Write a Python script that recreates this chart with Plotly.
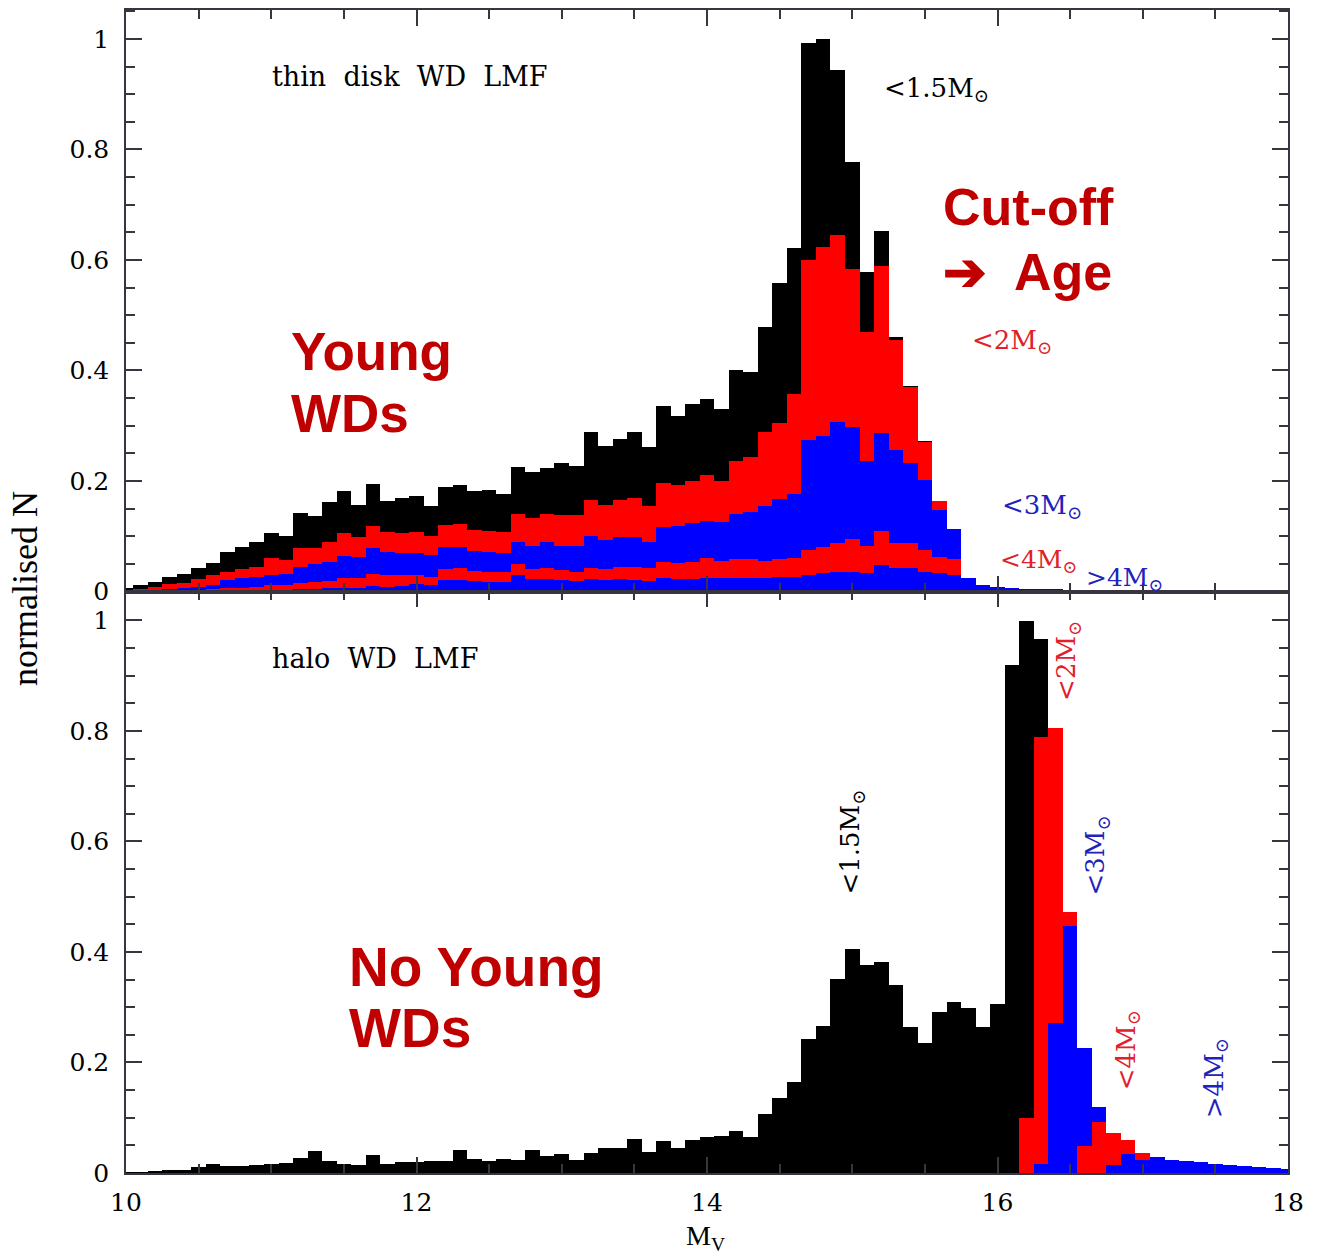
import plotly.graph_objects as go

# ---------------- data ----------------
# bin centres (absolute magnitude M_V), bin width 0.1
mv_bins = [round(10 + 0.1 * i, 1) for i in range(81)]
bin_width = 0.1

# thin disk WD LF: cumulative stack tops (all, >1.5, >2, >3, >4 Msun progenitors)
thin_all = [0.007,0.012,0.017,0.026,0.031,0.042,0.051,0.071,0.081,0.089,
            0.105,0.101,0.142,0.136,0.162,0.181,0.157,0.195,0.163,0.170,
            0.172,0.155,0.189,0.192,0.181,0.184,0.177,0.225,0.216,0.224,
            0.232,0.228,0.289,0.264,0.276,0.288,0.261,0.336,0.318,0.339,
            0.348,0.330,0.400,0.397,0.479,0.559,0.622,0.993,1.000,0.944,
            0.777,0.579,0.652,0.460,0.372,0.272,0.164,0.114,0.024,0.012,
            0.008,0.006,0.005,0.004,0.004,0.003,0.003,0.002,0.002,0.002,
            0.001,0.001,0.001,0.001,0.001,0.001,0,0,0,0,0]
thin_gt1p5 = [0.003,0.005,0.009,0.013,0.016,0.022,0.029,0.036,0.041,0.045,
              0.060,0.057,0.078,0.078,0.089,0.105,0.099,0.118,0.108,0.105,
              0.108,0.101,0.121,0.122,0.112,0.110,0.107,0.140,0.133,0.140,
              0.139,0.139,0.166,0.156,0.166,0.170,0.154,0.196,0.192,0.200,
              0.210,0.200,0.236,0.243,0.289,0.305,0.357,0.600,0.623,0.646,
              0.584,0.469,0.590,0.455,0.370,0.271,0.163,0.114,0.024,0.012,
              0.008,0.006,0.005,0.004,0.004,0.003,0.003,0.002,0.002,0.002,
              0.001,0.001,0.001,0.001,0.001,0.001,0,0,0,0,0]
thin_gt2 = [0.001,0.002,0.003,0.004,0.006,0.009,0.012,0.021,0.024,0.026,
            0.030,0.031,0.044,0.049,0.053,0.065,0.063,0.078,0.072,0.069,
            0.069,0.066,0.081,0.080,0.074,0.071,0.069,0.090,0.083,0.089,
            0.083,0.083,0.101,0.093,0.099,0.099,0.090,0.116,0.118,0.124,
            0.128,0.125,0.141,0.144,0.154,0.167,0.177,0.274,0.281,0.307,
            0.298,0.236,0.287,0.256,0.232,0.202,0.148,0.114,0.024,0.012,
            0.008,0.006,0.005,0.004,0.004,0.003,0.003,0.002,0.002,0.002,
            0.001,0.001,0.001,0.001,0.001,0.001,0,0,0,0,0]
thin_gt3 = [0.000,0.001,0.001,0.002,0.002,0.003,0.004,0.006,0.007,0.009,
            0.012,0.012,0.016,0.017,0.019,0.024,0.024,0.031,0.029,0.029,
            0.030,0.027,0.041,0.042,0.037,0.036,0.035,0.049,0.041,0.042,
            0.039,0.036,0.042,0.041,0.045,0.045,0.042,0.054,0.051,0.054,
            0.060,0.056,0.058,0.058,0.056,0.058,0.060,0.075,0.080,0.088,
            0.095,0.082,0.110,0.088,0.088,0.075,0.062,0.058,0.024,0.012,
            0.008,0.006,0.005,0.004,0.004,0.003,0.003,0.002,0.002,0.002,
            0.001,0.001,0.001,0.001,0.001,0.001,0,0,0,0,0]
thin_gt4 = [0.000,0.000,0.000,0.001,0.001,0.001,0.001,0.002,0.002,0.002,
            0.003,0.003,0.004,0.005,0.006,0.007,0.007,0.010,0.009,0.010,
            0.013,0.012,0.021,0.021,0.019,0.018,0.018,0.030,0.023,0.023,
            0.021,0.019,0.023,0.021,0.023,0.021,0.019,0.024,0.023,0.023,
            0.024,0.024,0.025,0.025,0.024,0.026,0.027,0.030,0.033,0.035,
            0.036,0.034,0.048,0.042,0.042,0.036,0.033,0.030,0.024,0.012,
            0.008,0.006,0.005,0.004,0.004,0.003,0.003,0.002,0.002,0.002,
            0.001,0.001,0.001,0.001,0.001,0.001,0,0,0,0,0]

# halo WD LF: cumulative stack tops
halo_all = [0.002,0.003,0.005,0.006,0.007,0.012,0.018,0.013,0.014,0.016,
            0.018,0.019,0.028,0.040,0.023,0.018,0.016,0.033,0.017,0.020,
            0.021,0.022,0.023,0.043,0.026,0.022,0.026,0.025,0.043,0.032,
            0.035,0.025,0.037,0.046,0.046,0.062,0.039,0.058,0.046,0.060,
            0.066,0.067,0.077,0.066,0.107,0.137,0.165,0.243,0.267,0.352,
            0.407,0.378,0.383,0.342,0.265,0.237,0.292,0.310,0.299,0.265,
            0.307,0.920,1.000,0.967,0.807,0.473,0.227,0.120,0.073,0.060,
            0.037,0.030,0.025,0.023,0.020,0.017,0.015,0.013,0.011,0.010,0.008]
halo_gt1p5 = [0]*62 + [0.100,0.790,0.807,0.473,0.227,0.120,0.073,0.060,
                       0.037,0.030,0.025,0.023,0.020,0.017,0.015,0.013,0.011,0.010,0.008]
halo_gt2 = [0]*62 + [0.000,0.017,0.273,0.448,0.227,0.120,0.073,0.060,
                     0.037,0.030,0.025,0.023,0.020,0.017,0.015,0.013,0.011,0.010,0.008]
halo_gt3 = [0]*62 + [0.000,0.000,0.000,0.000,0.050,0.093,0.073,0.060,
                     0.037,0.030,0.025,0.023,0.020,0.017,0.015,0.013,0.011,0.010,0.008]
halo_gt4 = [0]*62 + [0.000,0.000,0.000,0.000,0.000,0.000,0.015,0.035,
                     0.025,0.030,0.025,0.023,0.020,0.017,0.015,0.013,0.011,0.010,0.008]

layer_colors = ["#000000", "#FF0000", "#0000FF", "#FF0000", "#0000FF"]

# ---------------- figure ----------------
W, H = 1318, 1254
L, R, T, B = 126, 30, 8, 81
fig = go.Figure()

panels = [
    ("x", "y", [thin_all, thin_gt1p5, thin_gt2, thin_gt3, thin_gt4]),
    ("x2", "y2", [halo_all, halo_gt1p5, halo_gt2, halo_gt3, halo_gt4]),
]
for xa, ya, layers in panels:
    for vals, col in zip(layers, layer_colors):
        fig.add_trace(go.Bar(x=mv_bins, y=vals, width=bin_width, xaxis=xa, yaxis=ya,
                             marker=dict(color=col, line=dict(width=0)),
                             showlegend=False, hoverinfo="skip"))

frame = "#3a3340"
tickfont = dict(family="DejaVu Serif", size=25, color="black")
xcommon = dict(range=[10, 18], tick0=10, dtick=2, ticks="inside", ticklen=16, tickwidth=1.5,
               tickcolor=frame, showline=True, linecolor=frame, linewidth=1.5, mirror="ticks",
               showgrid=False, zeroline=False,
               minor=dict(dtick=0.5, ticks="inside", ticklen=9, tickcolor=frame, tickwidth=1.5, showgrid=False))
ycommon = dict(range=[0, 1.0524], tick0=0, dtick=0.2, ticks="inside", ticklen=16, tickwidth=1.5,
               tickcolor=frame, showline=True, linecolor=frame, linewidth=1.5, mirror="ticks",
               showgrid=False, zeroline=False, tickfont=tickfont, ticklabelstandoff=10,
               minor=dict(dtick=0.05, ticks="inside", ticklen=9, tickcolor=frame, tickwidth=1.5, showgrid=False))

fig.update_layout(
    width=W, height=H, margin=dict(l=L, r=R, t=T, b=B),
    paper_bgcolor="white", plot_bgcolor="white",
    barmode="overlay", bargap=0,
    xaxis=dict(**xcommon, anchor="y", showticklabels=False),
    yaxis=dict(**ycommon, domain=[0.5, 1.0], anchor="x"),
    xaxis2=dict(**xcommon, anchor="y2", showticklabels=True, tickfont=tickfont, ticklabelstandoff=6),
    yaxis2=dict(**ycommon, domain=[0.0, 0.5], anchor="x2"),
)

PW, PH = W - L - R, H - T - B


def px(xp):
    return (xp - L) / PW


def py(yp):
    return (H - B - yp) / PH


def note(text, x, y, size=26, color="black", family="DejaVu Serif", xanchor="left", angle=0):
    fig.add_annotation(text=text, x=px(x), y=py(y), xref="paper", yref="paper",
                       xanchor=xanchor, yanchor="middle", showarrow=False, textangle=angle,
                       font=dict(family=family, size=size, color=color))


MSUN = "M<sub>\u2299</sub>"
red_lab, blue_lab = "#E0202A", "#2222BB"
bold_red = "#C00000"
sans = "Liberation Sans"
NB = "\u00a0"

# top panel
note("thin" + NB * 2 + "disk" + NB * 2 + "WD" + NB * 2 + "LMF", 270, 75, size=27)
note("&lt;1.5" + MSUN, 882, 88)
note("&lt;2" + MSUN, 970, 340, color=red_lab)
note("&lt;3" + MSUN, 1000, 505, color=blue_lab)
note("&lt;4" + MSUN, 998, 560, size=25, color=red_lab)
note("&gt;4" + MSUN, 1084, 578, size=25, color=blue_lab)
note("<b>Cut-off</b>", 941, 205, size=52, color=bold_red, family=sans)
note("<b>\u2794" + NB + " Age</b>", 941, 270, size=52, color=bold_red, family=sans)
note("<b>Young</b>", 289, 350, size=53, color=bold_red, family=sans)
note("<b>WDs</b>", 289, 412, size=53, color=bold_red, family=sans)

# bottom panel
note("halo" + NB * 2 + "WD" + NB * 2 + "LMF", 270, 658, size=27)
note("&lt;1.5" + MSUN, 852, 842, xanchor="center", angle=-90)
note("&lt;2" + MSUN, 1068, 660, color=red_lab, xanchor="center", angle=-90)
note("&lt;3" + MSUN, 1097, 855, color=blue_lab, xanchor="center", angle=-90)
note("&lt;4" + MSUN, 1127, 1050, color=red_lab, xanchor="center", angle=-90)
note("&gt;4" + MSUN, 1215, 1078, color=blue_lab, xanchor="center", angle=-90)
note("<b>No Young</b>", 347, 967, size=55, color=bold_red, family=sans)
note("<b>WDs</b>", 347, 1028, size=55, color=bold_red, family=sans)

# axis titles
note("normalised N", 25, 588, size=36, family="Liberation Serif", xanchor="center", angle=-90)
note("M<sub>V</sub>", 705, 1238, size=28, family="Liberation Serif", xanchor="center")

fig.write_html("out.html")
